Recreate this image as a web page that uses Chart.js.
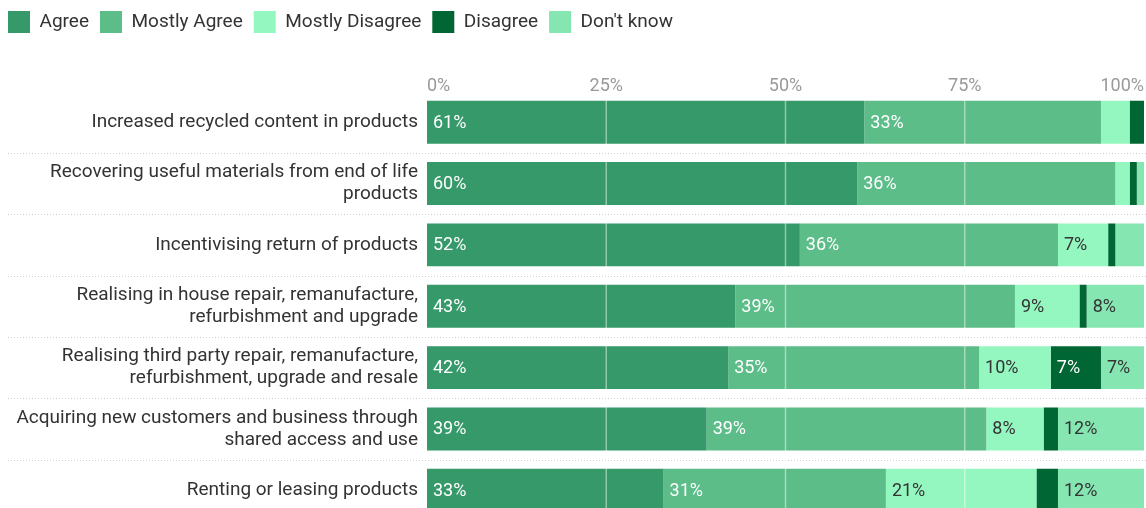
<!DOCTYPE html>
<html>
<head>
<meta charset="utf-8">
<script src="https://cdn.jsdelivr.net/npm/chart.js@4/dist/chart.umd.min.js"></script>
<style>
  html, body { margin: 0; padding: 0; background: #fff; overflow: hidden; }
  canvas { display: block; }
</style>
</head>
<body>
<canvas id="c" width="1146" height="521"></canvas>
<script>
// Survey statements (multi-line labels as arrays)
const categories = [
  'Increased recycled content in products',
  ['Recovering useful materials from end of life', 'products'],
  'Incentivising return of products',
  ['Realising in house repair, remanufacture,', 'refurbishment and upgrade'],
  ['Realising third party repair, remanufacture,', 'refurbishment, upgrade and resale'],
  ['Acquiring new customers and business through', 'shared access and use'],
  'Renting or leasing products'
];

// Share of respondents (%) per answer
const agree           = [61, 60, 52, 43, 42, 39, 33];
const mostlyAgree     = [33, 36, 36, 39, 35, 39, 31];
const mostlyDisagree  = [4, 2, 7, 9, 10, 8, 21];
const disagree        = [2, 1, 1, 1, 7, 2, 3];
const dontKnow        = [0, 1, 4, 8, 7, 12, 12];

const seriesNames = ['Agree', 'Mostly Agree', 'Mostly Disagree', 'Disagree', "Don't know"];
const xTicks = [0, 25, 50, 75, 100];

const colors     = ['#35996a', '#5cbd89', '#95f7c0', '#006633', '#86e6b2'];
const textColors = ['#ffffff', '#ffffff', '#333333', '#ffffff', '#333333'];
const FONT = 'Roboto, "Noto Sans", sans-serif';

const seriesData = [agree, mostlyAgree, mostlyDisagree, disagree, dontKnow];

// Fixed legend block height so the axis sits lower
const legendSpacing = {
  id: 'legendSpacing',
  beforeInit(chart) {
    const fit = chart.legend.fit;
    chart.legend.fit = function () {
      fit.bind(chart.legend)();
      this.height = 80.5;
    };
  }
};

// Dotted separators between rows
const rowSeparators = {
  id: 'rowSeparators',
  beforeDatasetsDraw(chart) {
    const y = chart.scales.y;
    const ctx = chart.ctx;
    ctx.save();
    ctx.strokeStyle = '#cfcfcf';
    ctx.lineWidth = 1;
    ctx.setLineDash([1, 2]);
    for (let i = 0; i < categories.length - 1; i++) {
      const py = Math.round((y.getPixelForValue(i) + y.getPixelForValue(i + 1)) / 2) + 0.5;
      ctx.beginPath();
      ctx.moveTo(8, py);
      ctx.lineTo(chart.width, py);
      ctx.stroke();
    }
    ctx.restore();
  }
};

// Light vertical guides over the bars, then value labels
const overlay = {
  id: 'overlay',
  afterDatasetsDraw(chart) {
    const ctx = chart.ctx;
    const x = chart.scales.x;
    const area = chart.chartArea;
    ctx.save();
    ctx.strokeStyle = 'rgba(255,255,255,0.45)';
    ctx.lineWidth = 1.5;
    [25, 50, 75].forEach(v => {
      const px = x.getPixelForValue(v);
      ctx.beginPath();
      ctx.moveTo(px, area.top);
      ctx.lineTo(px, area.bottom);
      ctx.stroke();
    });
    ctx.restore();

    ctx.save();
    ctx.font = '18px ' + FONT;
    ctx.textBaseline = 'middle';
    ctx.textAlign = 'left';
    chart.data.datasets.forEach((ds, di) => {
      const meta = chart.getDatasetMeta(di);
      meta.data.forEach((bar, i) => {
        const v = ds.data[i];
        if (v < 5) return;
        ctx.fillStyle = textColors[di];
        const left = Math.min(bar.base, bar.x);
        ctx.fillText(v + '%', left + 6, bar.y + 1);
      });
    });
    ctx.restore();
  }
};

new Chart(document.getElementById('c'), {
  type: 'bar',
  data: {
    labels: categories,
    datasets: seriesNames.map((name, i) => ({
      label: name,
      data: seriesData[i],
      backgroundColor: colors[i],
      borderWidth: 0,
      barPercentage: 0.7,
      categoryPercentage: 1.0
    }))
  },
  options: {
    indexAxis: 'y',
    responsive: false,
    animation: false,
    layout: { padding: { left: -3, right: 2, top: 0, bottom: 0 } },
    plugins: {
      tooltip: { enabled: false },
      legend: {
        display: true,
        position: 'top',
        align: 'start',
        labels: {
          boxWidth: 22,
          boxHeight: 22,
          padding: 11,
          color: '#333333',
          font: { family: FONT, size: 19 }
        }
      }
    },
    scales: {
      x: {
        position: 'top',
        stacked: true,
        min: 0,
        max: 100,
        afterBuildTicks(scale) {
          scale.ticks = xTicks.map(v => ({ value: v }));
        },
        // let the tick labels sit slightly below the axis box without clipping
        afterFit(scale) {
          scale._computeLabelArea = () => undefined;
        },
        grid: { display: false, drawTicks: false },
        border: { display: false },
        ticks: {
          align: 'inner',
          padding: -3.5,
          color: '#999999',
          font: { family: FONT, size: 18, lineHeight: 1 },
          callback: v => v + '%'
        }
      },
      y: {
        stacked: true,
        grid: { display: false, drawTicks: false },
        border: { display: false },
        afterFit(scale) {
          scale.width = 430;
          scale.paddingTop = 0;
          scale.paddingBottom = 0;
        },
        ticks: {
          padding: 9,
          color: '#333333',
          font: { family: FONT, size: 19, lineHeight: 1.16 }
        }
      }
    }
  },
  plugins: [legendSpacing, rowSeparators, overlay]
});
</script>
</body>
</html>
